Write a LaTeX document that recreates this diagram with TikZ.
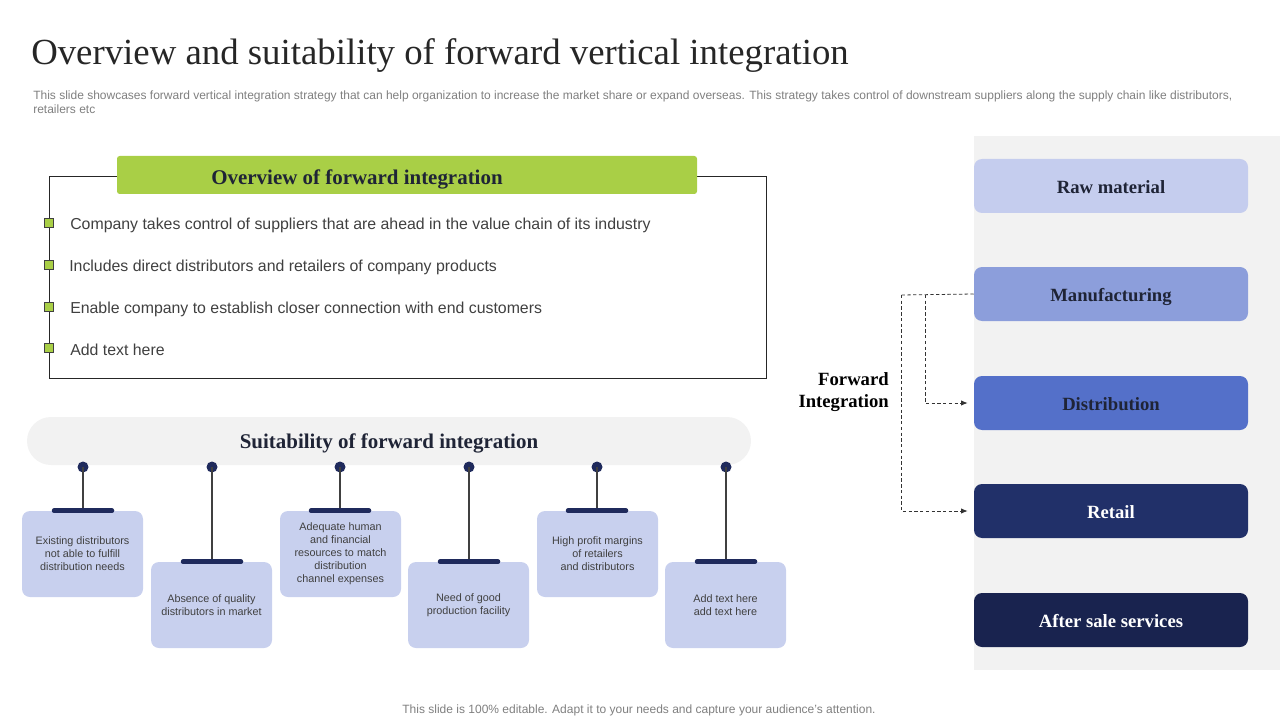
\documentclass[tikz,border=0pt]{standalone}
\usepackage{fontspec}
\setmainfont{Liberation Serif}
\setsansfont{Liberation Sans}
\usetikzlibrary{arrows.meta}
\definecolor{greenhd}{HTML}{A9CF46}
\definecolor{navy}{HTML}{1F2A5C}
\definecolor{lavbox}{HTML}{C8D0EE}
\definecolor{panel}{HTML}{F2F2F2}
\definecolor{txtgray}{HTML}{404040}
\definecolor{subgray}{HTML}{7F7F7F}
\definecolor{cRaw}{HTML}{C5CDEE}
\definecolor{cMan}{HTML}{8C9EDB}
\definecolor{cDis}{HTML}{5470C9}
\definecolor{cRet}{HTML}{213069}
\definecolor{cAft}{HTML}{19234F}
\definecolor{darktxt}{HTML}{1F2436}
\def\px{0.75pt}
\tikzset{
  stagebox/.style={rounded corners=6pt, minimum width=274*\px, minimum height=54*\px, inner sep=0pt,
     text height=11pt, text depth=0pt, font=\fontsize{14}{16}\selectfont\bfseries},
  suitbox/.style={fill=lavbox, rounded corners=6pt, minimum width=121*\px, minimum height=86*\px, inner sep=0pt,
     align=center, text=txtgray, font=\sffamily\fontsize{8.1}{9.75}\selectfont},
  bultext/.style={anchor=west, text=txtgray, font=\sffamily\fontsize{11.9}{13}\selectfont, inner sep=0pt},
  bulsq/.style={draw=txtgray, line width=0.5pt, fill=greenhd, minimum size=7pt, inner sep=0pt},
  dotn/.style={circle, fill=navy, minimum size=11*\px, inner sep=0pt},
  stem/.style={draw=txtgray, line width=0.9pt},
  capbar/.style={draw=navy, line width=4.5*\px, line cap=round},
  dashconn/.style={draw=black!80, dashed, line width=0.6pt, dash pattern=on 2.5pt off 1.8pt},
}
\begin{document}
\begin{tikzpicture}[x=\px, y=-\px]
\useasboundingbox (0,0) rectangle (1280,720);
% title
\node[anchor=west, inner sep=0pt, font=\fontsize{27.6}{30}\selectfont, text=black!85] (title) at (31,56) {Overview and suitability of forward vertical integration};
\node[anchor=north west, inner sep=0pt, align=left, text=subgray, font=\sffamily\fontsize{9}{10.5}\selectfont] (sub) at (33,91)
 {This slide showcases forward vertical integration strategy that can help organization to increase the market share or expand overseas. This strategy takes control of downstream suppliers along the supply chain like distributors,\\retailers etc};
% overview box
\node[draw=black!85, line width=0.7pt, minimum width=717*\px, minimum height=202*\px, inner sep=0pt] (ovbox) at (407.5,277) {};
\node[fill=greenhd, rounded corners=2pt, minimum width=580*\px, minimum height=38*\px, inner sep=0pt] (ovhead) at (407,175) {};
\node[font=\fontsize{15.7}{17}\selectfont\bfseries, text=darktxt, inner sep=0pt] (ovtext) at (357,179) {Overview of forward integration};
\node[bulsq] (b1) at (49,223) {};
\node[bulsq] (b2) at (49,265) {};
\node[bulsq] (b3) at (49,307) {};
\node[bulsq] (b4) at (49,348) {};
\node[bultext] (t1) at (70,225) {Company takes control of suppliers that are ahead in the value chain of its industry};
\node[bultext] (t2) at (69,267) {Includes direct distributors and retailers of company products};
\node[bultext] (t3) at (70,309) {Enable company to establish closer connection with end customers};
\node[bultext] (t4) at (70,350) {Add text here};
% suitability bar
\node[fill=panel, rounded corners=24*\px, minimum width=724*\px, minimum height=48*\px, inner sep=0pt] (suit) at (389,441) {};
\node[font=\fontsize{15.7}{17}\selectfont\bfseries, text=darktxt, inner sep=0pt] (suittext) at (389,443) {Suitability of forward integration};
% suitability boxes
\node[suitbox] (s1) at (82.5,554) {Existing distributors\\not able to fulfill\\distribution needs};
\node[suitbox] (s2) at (211.5,605) {Absence of quality\\distributors in market};
\node[suitbox] (s3) at (340.5,554) {Adequate human\\and financial\\resources to match\\distribution\\channel expenses};
\node[suitbox] (s4) at (468.5,605) {Need of good\\production facility};
\node[suitbox] (s5) at (597.5,554) {High profit margins\\of retailers\\and distributors};
\node[suitbox] (s6) at (725.5,605) {Add text here\\add text here};
\foreach \i/\x in {1/83,2/212,3/340,4/469,5/597,6/726}{
  \node[dotn] (d\i) at (\x,467) {};
}
\foreach \i in {1,...,6}{
  \draw[stem] (d\i.center) -- (d\i.center |- s\i.north);
  \draw[capbar] ([xshift=-29*\px]d\i.center |- s\i.north) -- ([xshift=29*\px]d\i.center |- s\i.north);
}
% right panel
\fill[panel] (974,136) rectangle (1280,670);
\node[stagebox, fill=cRaw, text=darktxt] (raw) at (1111,186) {Raw material};
\node[stagebox, fill=cMan, text=darktxt] (man) at (1111,294) {Manufacturing};
\node[stagebox, fill=cDis, text=darktxt] (dis) at (1111,403) {Distribution};
\node[stagebox, fill=cRet, text=white] (ret) at (1111,511) {Retail};
\node[stagebox, fill=cAft, text=white] (aft) at (1111,620) {After sale services};
\node[anchor=east, align=right, inner sep=0pt, font=\fontsize{14}{16.5}\selectfont\bfseries, text=black] (fi) at (889,392) {Forward\\Integration};
\coordinate (j1) at (901,295);
\coordinate (j2) at (925,295);
\draw[dashconn] (man.west) -- (j1);
\draw[dashconn, -{Latex[length=5pt,width=4pt]}] (j1) |- ([xshift=-6*\px]ret.west);
\draw[dashconn, -{Latex[length=5pt,width=4pt]}] (j2) |- ([xshift=-6*\px]dis.west);
% footer
\node[text=subgray, inner sep=0pt, font=\sffamily\fontsize{9}{10}\selectfont] (foot) at (639,710) {This slide is 100\% editable. Adapt it to your needs and capture your audience's attention.};
\end{tikzpicture}
\end{document}
